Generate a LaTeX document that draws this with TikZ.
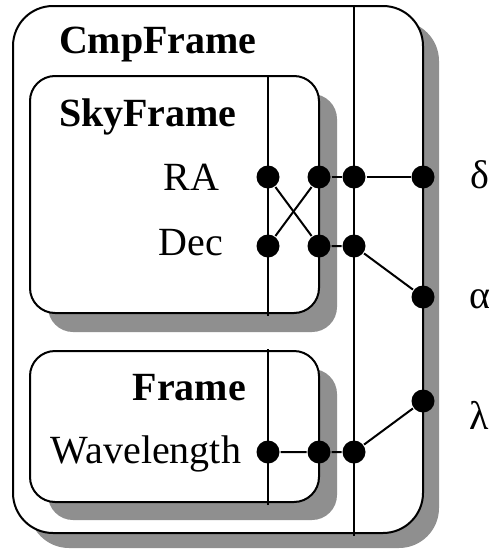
\documentclass[tikz,border=0pt]{standalone}
\usepackage{fontspec}
\setmainfont{Liberation Serif}
\definecolor{shadowgray}{gray}{0.56}
\tikzset{
    dot/.style={circle, fill=black, inner sep=0pt, minimum size=23pt},
    box/.style={draw=black, fill=white, rounded corners=#1},
    shade/.style={fill=shadowgray, rounded corners=#1},
    txt/.style={font=\fontsize{40}{44}\selectfont, inner sep=0pt},
}

\begin{document}
\begin{tikzpicture}[x=1pt, y=-1pt, line width=2pt]
        \useasboundingbox (0,0) rectangle (493,552);

        % frames and their shadows
        \fill[shade=40pt] (29,21) rectangle (439,548);
        \draw[box=40pt] (13,6) rectangle (423,533);
        \fill[shade=25pt] (48,94) rectangle (337,332);
        \draw[box=25pt] (30,76) rectangle (319,313);
        \fill[shade=25pt] (48,369) rectangle (337,520);
        \draw[box=25pt] (30,351) rectangle (319,502);

        \draw (268,75) -- (268,316);
        \draw (268,349) -- (268,505);
        \draw (354,6) -- (354,536);

        \node[dot] (ra) at (268,177) {};
        \node[dot] (dec) at (268,246) {};
        \node[dot] (sra) at (319,177) {};
        \node[dot] (sdec) at (319,246) {};
        \node[dot] (cra) at (354,177) {};
        \node[dot] (cdec) at (354,246) {};
        \node[dot] (delta) at (423,177) {};
        \node[dot] (alpha) at (423,297) {};
        \node[dot] (lambda) at (423,401) {};
        \node[dot] (wave) at (268,452) {};
        \node[dot] (fwave) at (319,452) {};
        \node[dot] (cwave) at (354,452) {};

        \draw (ra) -- (sdec);
        \draw (dec) -- (sra);
        \draw (sra) -- (cra) -- (delta);
        \draw (sdec) -- (cdec) -- (alpha);
        \draw (wave) -- (fwave) -- (cwave) -- (lambda);

        \node[txt, anchor=base west] (cmpname) at (58,53) {\textbf{CmpFrame}};
        \node[txt, anchor=base west] (skyname) at (58,126) {\textbf{SkyFrame}};
        \node[txt, anchor=base east] (framename) at (247,400) {\textbf{Frame}};
        \node[txt, anchor=base east] (ralabel) at (220,190) {RA};
        \node[txt, anchor=base east] (declabel) at (224,255) {Dec};
        \node[txt, anchor=base east] (wavelabel) at (242,463) {Wavelength};
        \node[txt, anchor=base west] (deltalabel) at (469,188) {δ};
        \node[txt, anchor=base west] (alphalabel) at (468,308) {α};
        \node[txt, anchor=base west] (lambdalabel) at (468,429) {λ};

    \end{tikzpicture}
\end{document}
